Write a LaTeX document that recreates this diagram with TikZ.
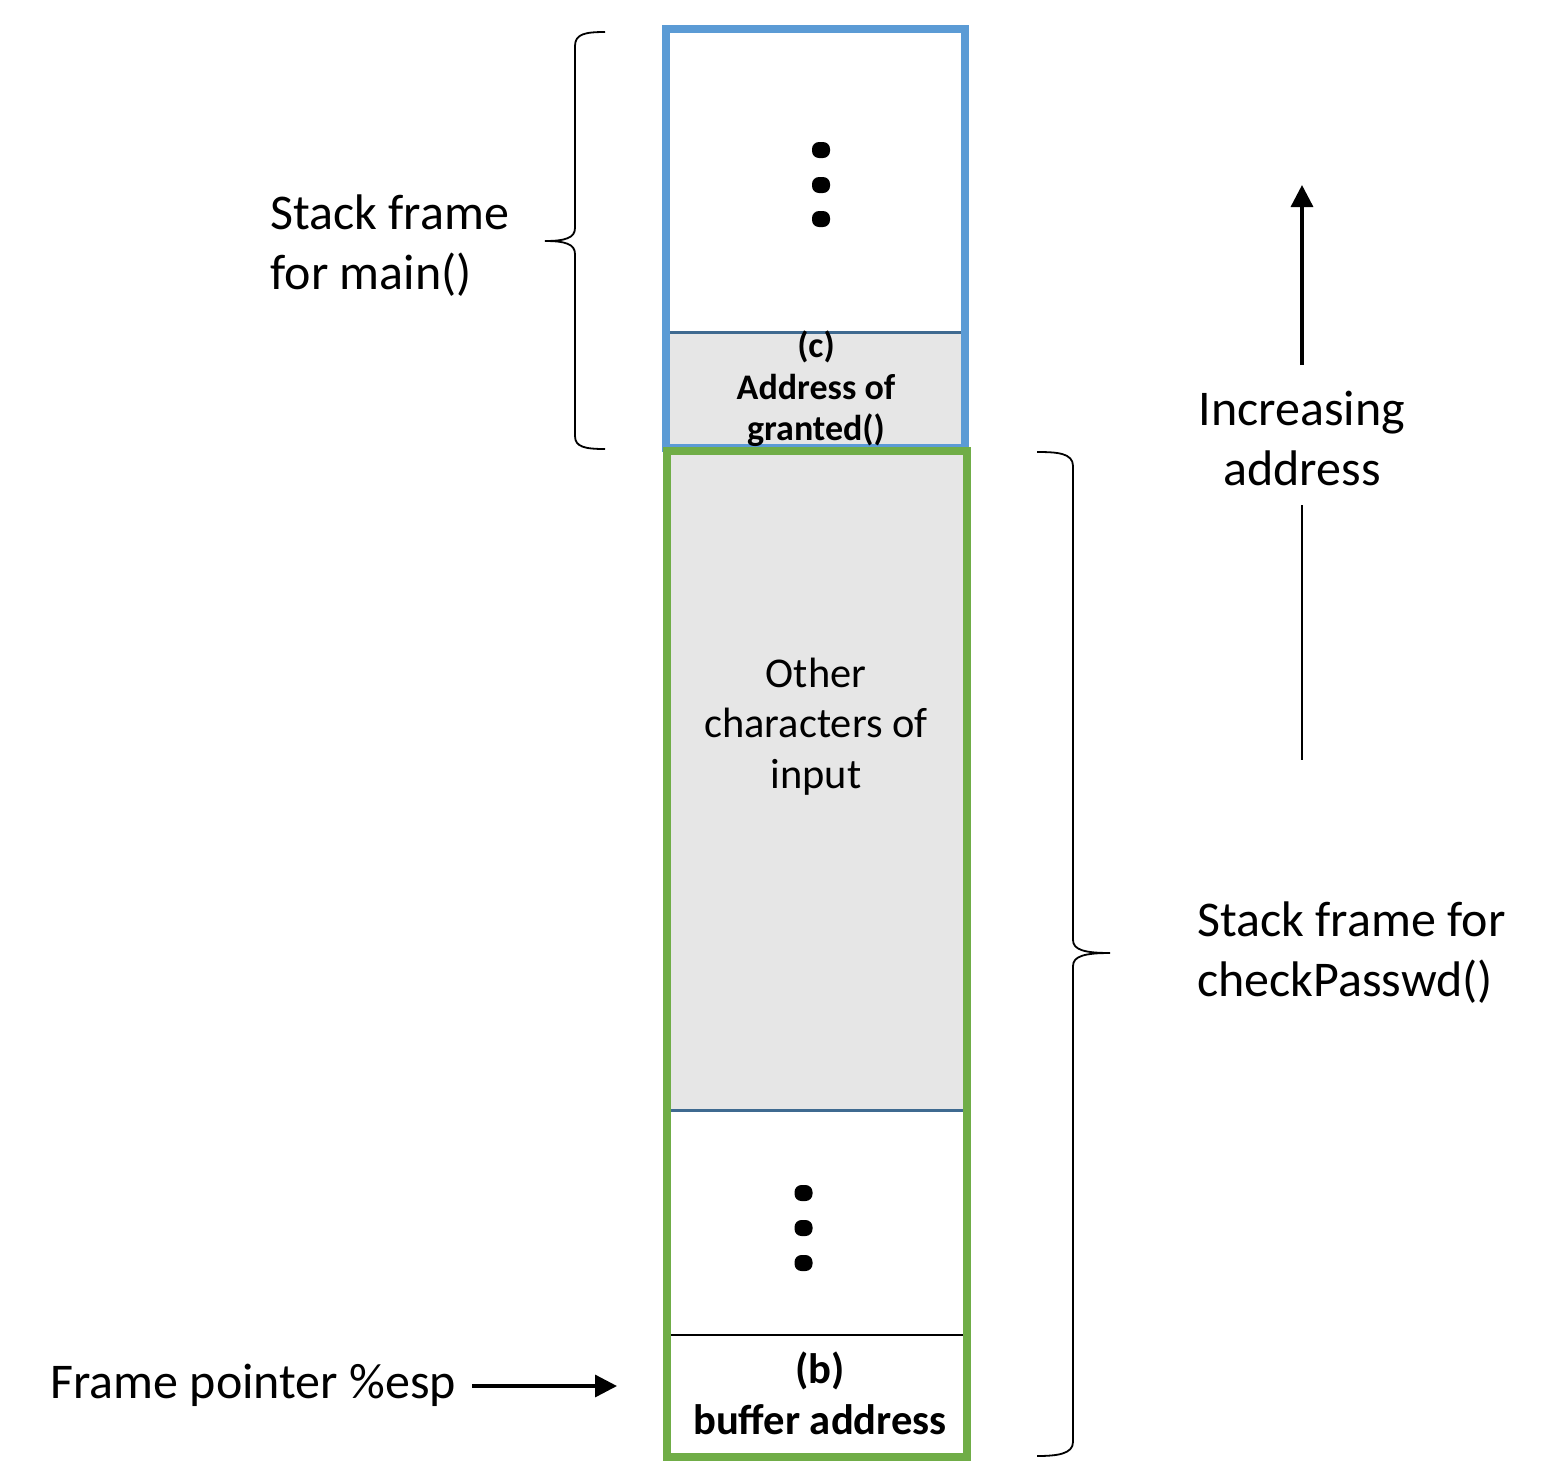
\documentclass[tikz,border=0pt]{standalone}
\usepackage{fontspec}
\setmainfont{Carlito}
\usetikzlibrary{arrows.meta}
\definecolor{frameblue}{HTML}{5B9BD5}
\definecolor{framegreen}{HTML}{70AD47}
\definecolor{cellgray}{HTML}{E6E6E6}
\definecolor{divblue}{HTML}{3F6A90}
\tikzset{
  big/.style={font=\fontsize{25pt}{30pt}\selectfont, anchor=base, inner sep=0pt},
  mid/.style={font=\fontsize{21.2pt}{25pt}\selectfont, anchor=base, inner sep=0pt},
  cbold/.style={font=\bfseries\fontsize{18pt}{21pt}\selectfont, anchor=base, inner sep=0pt},
  bbold/.style={font=\bfseries\fontsize{21.3pt}{25pt}\selectfont, anchor=base, inner sep=0pt},
  dot/.style={fill=black, rounded corners=3.5pt},
  bracestyle/.style={line width=0.9pt},
  arr/.style={line width=1.7pt, -{Triangle[width=11pt,length=11pt]}},
}
\begin{document}
\begin{tikzpicture}[x=0.5pt,y=-0.5pt]
\useasboundingbox (0,0) rectangle (1560,1484);
% fills
\fill[cellgray] (670,332) rectangle (961,447);
\fill[cellgray] (671,455) rectangle (963,1110);
\draw[divblue, line width=1.5pt] (670,332) -- (961,332);
\draw[divblue, line width=1.5pt] (671,1110) -- (963,1110);
\draw[black, line width=1pt] (671,1335) -- (963,1335);
% frames
\draw[frameblue, line width=4pt] (666,29) rectangle (965,448);
\draw[framegreen, line width=4pt] (667,451) rectangle (967,1457);
% dots
\foreach \yy in {150,185,219} \fill[dot] (812,\yy-8) rectangle (830,\yy+8);
\foreach \yy in {1193,1228,1263} \fill[dot] (794.5,\yy-8) rectangle (812.5,\yy+8);
% cell texts
\node[cbold] (c1) at (816,357) {(c)};
\node[cbold] (c2) at (816,399) {Address of};
\node[cbold] (c3) at (816,440) {granted()};
\node[mid] (o1) at (816,687) {Other};
\node[mid] (o2) at (816,737) {characters of};
\node[mid] (o3) at (816,788) {input};
\node[bbold] (b1) at (820,1383) {(b)};
\node[bbold] (b2) at (820,1434) {buffer address};
% left labels
\node[big, anchor=base west] (m1) at (270,229) {Stack frame};
\node[big, anchor=base west] (m2) at (270,289) {for main()};
\node[big, anchor=base west] (fp) at (50,1398) {Frame pointer \%esp};
% right labels
\node[big] (i1) at (1302,425) {Increasing};
\node[big] (i2) at (1302,485) {address};
\node[big, anchor=base west] (s1) at (1197,936) {Stack frame for};
\node[big, anchor=base west] (s2) at (1197,996) {checkPasswd()};
% arrows
\coordinate (fpend) at (617,1386);
\draw[arr] (472,1386) -- (fpend);
\coordinate (uptop) at (1302,185);
\draw[arr] (1302,365) -- (uptop);
\draw[line width=1pt] (1302,505) -- (1302,760);
% left brace
\draw[bracestyle] (605,32) .. controls (585,32) and (575,34) .. (575,46)
  -- (575,228) .. controls (575,238) and (565,241) .. (545,241)
  .. controls (565,241) and (575,244) .. (575,254)
  -- (575,436) .. controls (575,447) and (585,449) .. (605,449);
% right brace
\draw[bracestyle] (1037,452) .. controls (1057,452) and (1073,453) .. (1073,466)
  -- (1073,940) .. controls (1073,950) and (1085,953) .. (1110,953)
  .. controls (1085,953) and (1073,956) .. (1073,966)
  -- (1073,1442) .. controls (1073,1454) and (1057,1456) .. (1037,1456);
\end{tikzpicture}
\end{document}
